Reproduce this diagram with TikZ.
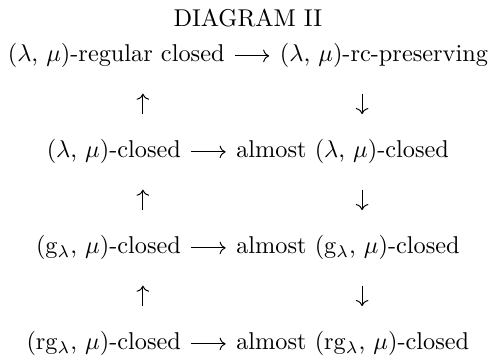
\documentclass[tikz,border=0pt]{standalone}
\usetikzlibrary{arrows.meta}

\begin{document}
\begin{tikzpicture}[
    term/.style={inner sep=0pt, text height=7.5pt, text depth=2.5pt},
    rowline/.style={inner sep=0pt, column sep=22.77pt},
    harr/.style={-{Computer Modern Rightarrow}, line width=0.4pt,
                 shorten <=3.9pt, shorten >=4.2pt},
    varr/.style={-{Computer Modern Rightarrow}, line width=0.4pt,
                 shorten <=10.35pt, shorten >=10.35pt}
  ]
  \useasboundingbox (0,0) rectangle (204.1pt,-147.3pt);
  \coordinate (upx) at (58.8pt,0);
  \coordinate (dnx) at (149pt,0);

  \node[anchor=base, inner sep=0pt] (title) at (102pt,-11.1pt) {DIAGRAM II};

  \matrix[rowline] (r1) at (102pt,-23pt) {
    \node[term] (r1a) {($\lambda$, $\mu$)-regular closed}; &
    \node[term] (r1b) {($\lambda$, $\mu$)-rc-preserving}; \\
  };
  \matrix[rowline] (r2) at (102pt,-62.5pt) {
    \node[term] (r2a) {($\lambda$, $\mu$)-closed}; &
    \node[term] (r2b) {almost ($\lambda$, $\mu$)-closed}; \\
  };
  \matrix[rowline] (r3) at (102pt,-102pt) {
    \node[term] (r3a) {(g$_\lambda$, $\mu$)-closed}; &
    \node[term] (r3b) {almost (g$_\lambda$, $\mu$)-closed}; \\
  };
  \matrix[rowline] (r4) at (102pt,-141.5pt) {
    \node[term] (r4a) {(rg$_\lambda$, $\mu$)-closed}; &
    \node[term] (r4b) {almost (rg$_\lambda$, $\mu$)-closed}; \\
  };

  \draw[harr] (r1a.east) -- (r1b.west);
  \draw[harr] (r2a.east) -- (r2b.west);
  \draw[harr] (r3a.east) -- (r3b.west);
  \draw[harr] (r4a.east) -- (r4b.west);

  \draw[varr] (r2.north -| upx) -- (r1.south -| upx);
  \draw[varr] (r3.north -| upx) -- (r2.south -| upx);
  \draw[varr] (r4.north -| upx) -- (r3.south -| upx);
  \draw[varr] (r1.south -| dnx) -- (r2.north -| dnx);
  \draw[varr] (r2.south -| dnx) -- (r3.north -| dnx);
  \draw[varr] (r3.south -| dnx) -- (r4.north -| dnx);
\end{tikzpicture}
\end{document}
